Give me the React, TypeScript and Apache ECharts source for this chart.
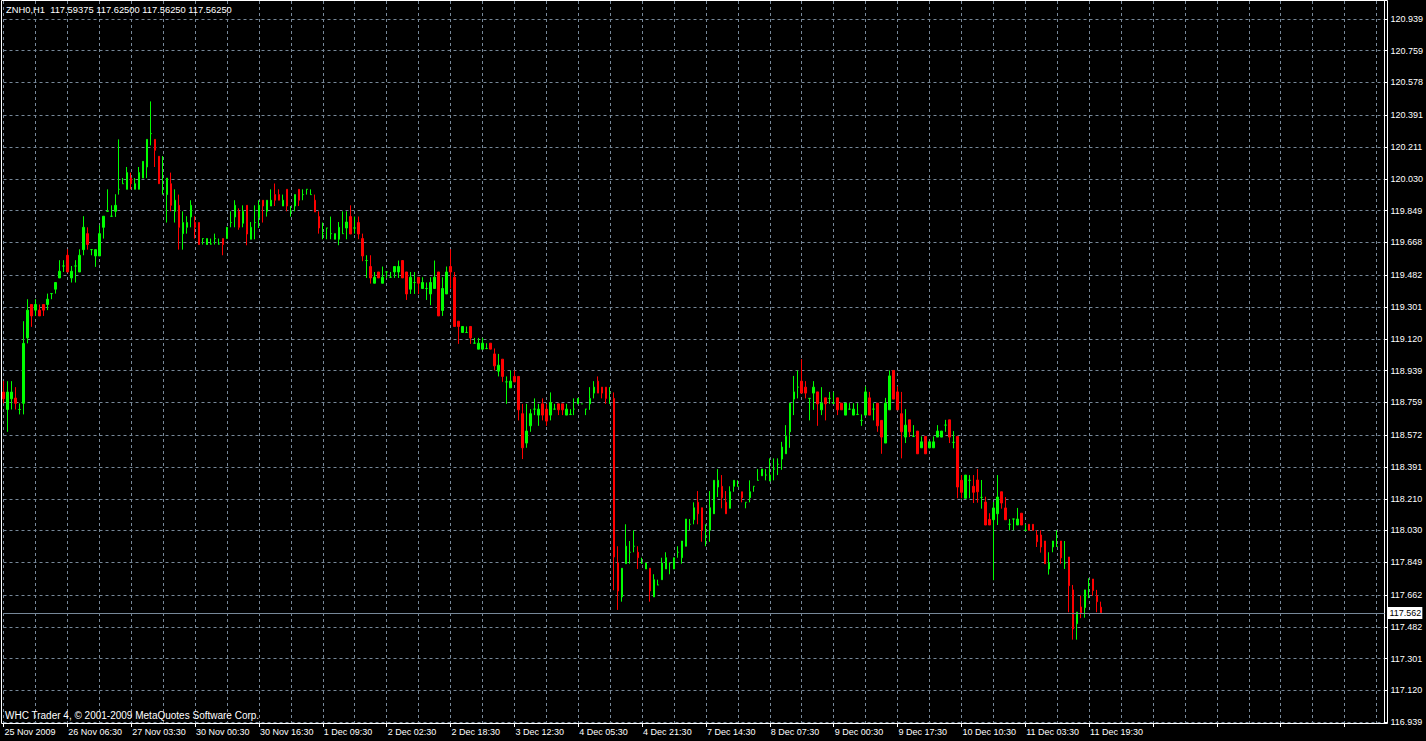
import React, { useEffect, useRef } from 'react';
import * as echarts from 'echarts';

// Hourly OHLC bars, ZNH0 H1 (25 Nov 2009 - 11 Dec 2009)
const opens = [
  118.817, 118.718, 118.779, 118.783, 118.718, 118.753, 119.125, 119.315, 119.283, 119.283,
  119.315, 119.315, 119.377, 119.402, 119.466, 119.534, 119.595, 119.466, 119.534, 119.500,
  119.627, 119.718, 119.627, 119.591, 119.591, 119.754, 119.845, 119.817, 119.845, 119.970,
  120.002, 119.970, 120.034, 119.970, 119.970, 120.034, 120.097, 120.287, 120.254, 120.158,
  119.970, 119.940, 120.002, 119.845, 119.879, 119.718, 119.754, 119.813, 119.781, 119.781,
  119.690, 119.656, 119.659, 119.690, 119.659, 119.690, 119.690, 119.781, 119.813, 119.845,
  119.777, 119.879, 119.686, 119.781, 119.811, 119.908, 119.845, 119.875, 119.940, 119.940,
  119.875, 119.970, 119.845, 119.875, 119.970, 119.940, 119.970, 119.940, 119.908, 119.815,
  119.718, 119.750, 119.718, 119.686, 119.686, 119.718, 119.750, 119.815, 119.750, 119.781,
  119.690, 119.565, 119.531, 119.436, 119.500, 119.436, 119.500, 119.470, 119.500, 119.500,
  119.565, 119.500, 119.402, 119.440, 119.470, 119.406, 119.406, 119.375, 119.406, 119.500,
  119.281, 119.375, 119.531, 119.470, 119.220, 119.156, 119.156, 119.190, 119.095, 119.061,
  119.061, 119.065, 119.095, 119.034, 118.936, 119.004, 118.875, 118.841, 118.906, 118.906,
  118.694, 118.527, 118.625, 118.720, 118.686, 118.750, 118.720, 118.686, 118.720, 118.750,
  118.750, 118.686, 118.690, 118.720, 118.750, 118.750, 118.720, 118.750, 118.811, 118.879,
  118.845, 118.845, 118.815, 118.781, 117.845, 117.652, 117.841, 117.906, 117.940, 117.906,
  117.845, 117.811, 117.815, 117.652, 117.720, 117.750, 117.811, 117.845, 117.811, 117.906,
  117.875, 117.940, 118.065, 118.091, 118.190, 118.159, 118.000, 118.031, 118.125, 118.277,
  118.281, 118.190, 118.156, 118.281, 118.281, 118.250, 118.190, 118.216, 118.281, 118.315,
  118.341, 118.345, 118.311, 118.379, 118.406, 118.436, 118.466, 118.591, 118.777, 118.845,
  118.879, 118.845, 118.781, 118.811, 118.818, 118.716, 118.784, 118.781, 118.754, 118.784,
  118.754, 118.686, 118.720, 118.686, 118.690, 118.656, 118.686, 118.784, 118.720, 118.754,
  118.656, 118.527, 118.716, 118.940, 118.818, 118.694, 118.561, 118.659, 118.565, 118.595,
  118.500, 118.565, 118.500, 118.500, 118.561, 118.561, 118.629, 118.659, 118.531, 118.565,
  118.315, 118.213, 118.315, 118.281, 118.317, 118.218, 118.192, 118.093, 118.091, 118.125,
  118.250, 118.158, 118.065, 118.095, 118.061, 118.128, 118.031, 118.065, 118.065, 118.004,
  118.004, 117.970, 117.811, 117.936, 117.940, 117.970, 117.845, 117.879, 117.692, 117.500,
  117.595, 117.591, 117.720, 117.754, 117.658, 117.59375,
];

const highs = [
  118.879, 118.879, 118.879, 118.845, 118.753, 119.220, 119.345, 119.315, 119.345, 119.315,
  119.315, 119.377, 119.377, 119.440, 119.567, 119.567, 119.629, 119.534, 119.567, 119.629,
  119.817, 119.754, 119.627, 119.627, 119.766, 119.817, 119.970, 119.879, 119.942, 120.254,
  120.034, 120.097, 120.065, 120.034, 120.097, 120.129, 120.254, 120.470, 120.254, 120.158,
  120.159, 120.034, 120.065, 119.970, 119.940, 119.845, 119.817, 119.908, 119.817, 119.781,
  119.690, 119.690, 119.690, 119.718, 119.690, 119.690, 119.754, 119.845, 119.908, 119.862,
  119.879, 119.879, 119.784, 119.879, 119.908, 119.908, 119.908, 119.970, 120.003, 119.970,
  119.940, 119.970, 119.875, 119.940, 119.970, 119.970, 119.970, 119.970, 119.940, 119.845,
  119.781, 119.750, 119.815, 119.718, 119.784, 119.845, 119.845, 119.879, 119.815, 119.815,
  119.718, 119.595, 119.595, 119.500, 119.500, 119.531, 119.500, 119.500, 119.531, 119.565,
  119.565, 119.500, 119.500, 119.500, 119.470, 119.470, 119.440, 119.470, 119.565, 119.500,
  119.470, 119.531, 119.629, 119.500, 119.220, 119.190, 119.190, 119.190, 119.125, 119.125,
  119.125, 119.095, 119.095, 119.065, 119.034, 119.004, 118.906, 118.940, 118.940, 118.906,
  118.750, 118.750, 118.720, 118.781, 118.750, 118.781, 118.750, 118.815, 118.750, 118.750,
  118.750, 118.750, 118.720, 118.781, 118.781, 118.750, 118.720, 118.845, 118.879, 118.906,
  118.845, 118.845, 118.845, 118.815, 117.940, 117.815, 118.065, 117.970, 118.031, 117.940,
  117.875, 117.845, 117.815, 117.781, 117.750, 117.875, 117.906, 117.845, 117.875, 117.940,
  117.970, 118.095, 118.095, 118.190, 118.254, 118.159, 118.065, 118.254, 118.315, 118.379,
  118.345, 118.254, 118.281, 118.315, 118.315, 118.250, 118.190, 118.315, 118.281, 118.379,
  118.379, 118.379, 118.440, 118.440, 118.440, 118.534, 118.629, 118.754, 118.909, 118.940,
  119.004, 118.879, 118.781, 118.879, 118.818, 118.845, 118.784, 118.818, 118.818, 118.784,
  118.754, 118.754, 118.754, 118.754, 118.754, 118.690, 118.849, 118.818, 118.754, 118.754,
  118.656, 118.784, 118.940, 118.940, 118.849, 118.818, 118.720, 118.659, 118.629, 118.595,
  118.565, 118.565, 118.534, 118.565, 118.629, 118.595, 118.659, 118.659, 118.595, 118.565,
  118.345, 118.345, 118.345, 118.345, 118.379, 118.317, 118.222, 118.128, 118.192, 118.345,
  118.250, 118.220, 118.095, 118.095, 118.158, 118.128, 118.065, 118.065, 118.065, 118.031,
  118.031, 117.970, 117.906, 117.970, 118.031, 117.970, 117.970, 117.879, 117.720, 117.565,
  117.659, 117.692, 117.758, 117.754, 117.692, 117.625,
];

const lows = [
  118.754, 118.591, 118.718, 118.718, 118.690, 118.690, 119.094, 119.188, 119.250, 119.250,
  119.250, 119.283, 119.345, 119.377, 119.466, 119.500, 119.500, 119.440, 119.440, 119.500,
  119.595, 119.627, 119.595, 119.529, 119.591, 119.690, 119.845, 119.813, 119.813, 119.940,
  120.002, 119.970, 119.970, 119.970, 119.970, 120.034, 120.034, 120.220, 120.097, 120.002,
  119.940, 119.781, 119.845, 119.781, 119.627, 119.627, 119.718, 119.754, 119.690, 119.656,
  119.656, 119.656, 119.656, 119.656, 119.656, 119.595, 119.690, 119.754, 119.754, 119.740,
  119.754, 119.652, 119.686, 119.686, 119.750, 119.781, 119.815, 119.875, 119.875, 119.908,
  119.875, 119.845, 119.815, 119.845, 119.875, 119.908, 119.940, 119.940, 119.841, 119.718,
  119.686, 119.686, 119.686, 119.686, 119.652, 119.718, 119.686, 119.716, 119.718, 119.686,
  119.561, 119.466, 119.434, 119.436, 119.466, 119.436, 119.466, 119.466, 119.466, 119.466,
  119.466, 119.341, 119.375, 119.375, 119.375, 119.406, 119.341, 119.311, 119.406, 119.250,
  119.250, 119.375, 119.406, 119.190, 119.091, 119.156, 119.156, 119.091, 119.095, 119.061,
  119.061, 119.061, 119.061, 118.940, 118.906, 118.875, 118.750, 118.841, 118.875, 118.656,
  118.436, 118.500, 118.591, 118.686, 118.625, 118.656, 118.625, 118.656, 118.720, 118.686,
  118.686, 118.686, 118.686, 118.686, 118.750, 118.750, 118.686, 118.716, 118.781, 118.811,
  118.781, 118.750, 118.750, 117.690, 117.578, 117.625, 117.841, 117.841, 117.906, 117.811,
  117.841, 117.811, 117.625, 117.652, 117.720, 117.750, 117.811, 117.781, 117.811, 117.875,
  117.841, 117.940, 118.031, 118.065, 118.065, 117.966, 117.940, 117.966, 118.125, 118.220,
  118.156, 118.125, 118.156, 118.250, 118.281, 118.190, 118.156, 118.190, 118.250, 118.315,
  118.341, 118.315, 118.311, 118.315, 118.345, 118.375, 118.466, 118.500, 118.686, 118.781,
  118.811, 118.781, 118.656, 118.716, 118.625, 118.686, 118.656, 118.750, 118.750, 118.686,
  118.716, 118.686, 118.716, 118.686, 118.686, 118.625, 118.686, 118.686, 118.656, 118.591,
  118.466, 118.527, 118.716, 118.777, 118.716, 118.440, 118.527, 118.561, 118.561, 118.466,
  118.500, 118.466, 118.497, 118.500, 118.561, 118.561, 118.591, 118.527, 118.497, 118.213,
  118.213, 118.213, 118.213, 118.186, 118.188, 118.154, 118.061, 118.061, 117.747, 118.061,
  118.154, 118.091, 118.031, 118.031, 118.061, 118.061, 118.031, 118.031, 118.031, 117.936,
  117.904, 117.841, 117.779, 117.906, 117.936, 117.841, 117.811, 117.565, 117.409, 117.409,
  117.531, 117.534, 117.645, 117.659, 117.565, 117.5625,
];

const closes = [
  118.779, 118.817, 118.817, 118.753, 118.718, 119.094, 119.283, 119.250, 119.315, 119.250,
  119.283, 119.345, 119.377, 119.440, 119.504, 119.534, 119.500, 119.504, 119.534, 119.595,
  119.754, 119.656, 119.627, 119.627, 119.718, 119.817, 119.845, 119.817, 119.879, 119.970,
  120.002, 120.065, 120.002, 120.002, 120.065, 120.129, 120.254, 120.287, 120.192, 120.002,
  119.970, 120.034, 119.879, 119.908, 119.754, 119.781, 119.781, 119.879, 119.754, 119.656,
  119.690, 119.690, 119.659, 119.690, 119.659, 119.656, 119.754, 119.781, 119.879, 119.754,
  119.845, 119.716, 119.754, 119.781, 119.879, 119.875, 119.908, 119.908, 119.908, 119.908,
  119.908, 119.875, 119.845, 119.940, 119.908, 119.940, 119.970, 119.940, 119.841, 119.750,
  119.718, 119.750, 119.718, 119.718, 119.754, 119.718, 119.784, 119.716, 119.750, 119.716,
  119.591, 119.565, 119.466, 119.470, 119.466, 119.470, 119.500, 119.470, 119.531, 119.531,
  119.466, 119.375, 119.470, 119.440, 119.436, 119.440, 119.406, 119.440, 119.470, 119.250,
  119.406, 119.500, 119.500, 119.190, 119.190, 119.190, 119.156, 119.125, 119.095, 119.095,
  119.095, 119.065, 119.061, 118.966, 118.970, 118.906, 118.875, 118.879, 118.875, 118.716,
  118.500, 118.595, 118.694, 118.720, 118.720, 118.686, 118.652, 118.758, 118.720, 118.716,
  118.716, 118.720, 118.690, 118.720, 118.781, 118.750, 118.720, 118.781, 118.845, 118.811,
  118.811, 118.781, 118.815, 117.879, 117.686, 117.815, 117.940, 117.906, 117.940, 117.875,
  117.845, 117.845, 117.686, 117.750, 117.720, 117.845, 117.875, 117.845, 117.875, 117.906,
  117.970, 118.095, 118.065, 118.159, 118.125, 118.031, 118.000, 118.159, 118.315, 118.315,
  118.216, 118.125, 118.250, 118.315, 118.281, 118.216, 118.190, 118.250, 118.281, 118.315,
  118.379, 118.345, 118.345, 118.379, 118.406, 118.504, 118.565, 118.754, 118.818, 118.845,
  118.811, 118.811, 118.781, 118.845, 118.750, 118.754, 118.750, 118.781, 118.754, 118.716,
  118.716, 118.754, 118.720, 118.720, 118.690, 118.656, 118.818, 118.686, 118.720, 118.625,
  118.561, 118.754, 118.909, 118.777, 118.716, 118.591, 118.629, 118.591, 118.565, 118.466,
  118.534, 118.466, 118.534, 118.534, 118.595, 118.595, 118.629, 118.561, 118.531, 118.277,
  118.247, 118.345, 118.315, 118.247, 118.250, 118.218, 118.061, 118.061, 118.158, 118.220,
  118.186, 118.091, 118.065, 118.095, 118.095, 118.061, 118.031, 118.031, 118.031, 117.966,
  117.936, 117.841, 117.845, 117.970, 117.940, 117.874, 117.845, 117.716, 117.470, 117.565,
  117.561, 117.692, 117.720, 117.688, 117.625, 117.5625,
];

// x-axis tick labels, one every 16 bars
const xTickLabels = [
  '25 Nov 2009', '26 Nov 06:30', '27 Nov 03:30', '30 Nov 00:30', '30 Nov 16:30', '1 Dec 09:30',
  '2 Dec 02:30', '2 Dec 18:30', '3 Dec 12:30', '4 Dec 05:30', '4 Dec 21:30', '7 Dec 14:30',
  '8 Dec 07:30', '9 Dec 00:30', '9 Dec 17:30', '10 Dec 10:30', '11 Dec 03:30', '11 Dec 19:30',
];

// y-axis tick labels (price scale)
const yTickLabels = [
  '116.939', '117.120', '117.301', '117.482', '117.662', '117.849', '118.030', '118.210',
  '118.391', '118.572', '118.759', '118.939', '119.120', '119.301', '119.482', '119.668',
  '119.849', '120.030', '120.211', '120.391', '120.578', '120.759', '120.939',
];

const headerText = 'ZNH0,H1  117.59375 117.62500 117.56250 117.56250';
const footerText = 'WHC Trader 4, \u00A9 2001-2009 MetaQuotes Software Corp.';
const bidPrice = 117.5625;
const bidLabel = '117.562';
const slotCount = 347; // bar slots on the time axis (chart shifted to the left)
const labelEvery = 16;
const gridEvery = 8;

const FONT = '"Liberation Sans", Arial, sans-serif';
const UP = '#00ff00';
const DOWN = '#ff0000';
const GRID = '#778899';

export default function App() {
  const ref = useRef<HTMLDivElement>(null);

  useEffect(() => {
    if (!ref.current) return;
    document.body.style.margin = '0';
    document.body.style.overflow = 'hidden';
    const chart = echarts.init(ref.current, undefined, { renderer: 'svg' });

    const categories = Array.from({ length: slotCount }, (_, i) =>
      i % labelEvery === 0 && xTickLabels[i / labelEvery] ? xTickLabels[i / labelEvery] : ''
    );

    const data = opens.map((o, i) => {
      const value = [o, closes[i], lows[i], highs[i]];
      if (o === closes[i]) {
        return {
          value,
          itemStyle: { color: UP, color0: UP, borderColor: UP, borderColor0: UP },
        };
      }
      return { value };
    });

    const yValues = yTickLabels.map((s) => parseFloat(s));

    chart.setOption({
      animation: false,
      backgroundColor: '#000000',
      textStyle: { fontFamily: FONT },
      grid: { left: 3.5, top: 1, width: 1384, height: 722, show: false, containLabel: false },
      xAxis: {
        type: 'category',
        data: categories,
        boundaryGap: false,
        axisLine: { show: true, onZero: false, lineStyle: { color: '#ffffff', width: 1 } },
        axisTick: {
          show: true,
          interval: (i: number) => i % labelEvery === 0,
          length: 4,
          lineStyle: { color: '#ffffff' },
        },
        axisLabel: {
          interval: (i: number) => i % labelEvery === 0,
          color: '#ffffff',
          fontSize: 9,
          fontFamily: FONT,
          align: 'left',
          margin: 4,
          padding: [0, 0, 0, 1],
        },
        splitLine: {
          show: true,
          interval: (i: number) => i % gridEvery === 0,
          lineStyle: { color: GRID, width: 1, type: [3, 3] },
        },
      },
      yAxis: {
        type: 'value',
        position: 'right',
        min: 116.935,
        max: 121.041,
        axisLine: { show: true, lineStyle: { color: '#ffffff', width: 1 } },
        axisTick: { show: true, length: 3, customValues: yValues, lineStyle: { color: '#ffffff' } },
        axisLabel: {
          customValues: yValues,
          formatter: (v: number) => v.toFixed(3),
          color: '#ffffff',
          fontSize: 9,
          fontFamily: FONT,
          margin: 6,
        },
        splitLine: { show: true, lineStyle: { color: GRID, width: 1, type: [3, 3] } },
      },
      series: [
        {
          type: 'candlestick',
          data,
          barWidth: 2,
          clip: false,
          itemStyle: {
            color: UP,
            color0: DOWN,
            borderColor: UP,
            borderColor0: DOWN,
            borderColorDoji: UP,
            borderWidth: 1,
          },
          markLine: {
            silent: true,
            symbol: ['none', 'none'],
            animation: false,
            data: [{ yAxis: bidPrice }],
            lineStyle: { color: GRID, type: 'solid', width: 1 },
            label: {
              show: true,
              position: 'end',
              formatter: bidLabel,
              color: '#000000',
              backgroundColor: '#ffffff',
              fontSize: 9,
              fontFamily: FONT,
              padding: [2, 1, 1, 2],
              distance: 3,
            },
          },
        },
      ],
      graphic: [
        {
          type: 'rect',
          silent: true,
          z: 100,
          shape: { x: 1.5, y: 0.5, width: 1386, height: 723 },
          style: { fill: 'none', stroke: '#ffffff', lineWidth: 1 },
        },
        {
          type: 'text',
          left: 6,
          top: 5,
          z: 101,
          style: { text: headerText, fill: '#ffffff', fontSize: 9.35, fontFamily: FONT },
        },
        {
          type: 'text',
          left: 5,
          top: 710,
          z: 101,
          style: { text: footerText, fill: '#ffffff', fontSize: 10, fontFamily: FONT },
        },
      ],
    });

    return () => chart.dispose();
  }, []);

  return (
    <div
      ref={ref}
      style={{
        position: 'fixed',
        left: 0,
        top: 0,
        width: 1426,
        height: 741,
        overflow: 'hidden',
        background: '#000',
      }}
    />
  );
}
